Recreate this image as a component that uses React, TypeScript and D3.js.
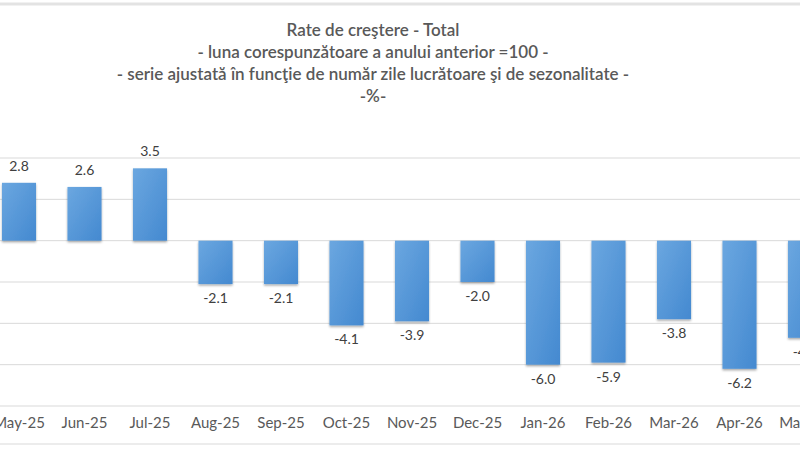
import React from 'react'
import * as d3 from 'd3'

const months = ['May-25', 'Jun-25', 'Jul-25', 'Aug-25', 'Sep-25', 'Oct-25', 'Nov-25', 'Dec-25', 'Jan-26', 'Feb-26', 'Mar-26', 'Apr-26', 'May-26']
const values = [2.8, 2.6, 3.5, -2.1, -2.1, -4.1, -3.9, -2.0, -6.0, -5.9, -3.8, -6.2, -4.7]
const yTicks = [4, 2, 0, -2, -4, -6, -8]
const titleLines = [
  'Rate de creştere - Total',
  '- luna corespunzătoare a anului anterior =100 -',
  '- serie ajustată în funcţie de număr zile lucrătoare şi de sezonalitate -',
  '-%-',
]

const width = 800
const height = 450
const font = 'Lato, "Open Sans", sans-serif'
const textColor = '#595959'

const App = () => {
  // the picture is a crop of a wider chart, so the band range runs past both edges
  const x = d3
    .scaleBand()
    .domain(months)
    .range([-13.75, 837.75])
    .paddingInner(0.48)
    .paddingOuter(0.24)

  const y = d3.scaleLinear().domain([-8, 4]).range([406, 158])

  return (
    <svg width={width} height={height} style={{ position: 'absolute', left: 0, top: 0, background: '#fff' }}>
      <defs>
        <linearGradient id="barFill" x1="0" y1="0" x2="1" y2="1">
          <stop offset="0%" stopColor="#6ba7e0" />
          <stop offset="100%" stopColor="#4489d0" />
        </linearGradient>
        <filter id="shadow" x="-20%" y="-20%" width="140%" height="140%">
          <feDropShadow dx="0" dy="1.5" stdDeviation="1" floodColor="#000" floodOpacity="0.35" />
        </filter>
      </defs>

      {/* chart border remnants */}
      <line x1={0} x2={width} y1={4} y2={4} stroke="#e3e3e3" strokeWidth={3} />
      <line x1={0} x2={width} y1={444} y2={444} stroke="#e6e6e6" strokeWidth={1.5} />

      {titleLines.map((t, i) => (
        <text
          key={i}
          x={373}
          y={30 + i * 22}
          dy="0.35em"
          textAnchor="middle"
          fontFamily={font}
          fontSize={17}
          fontWeight={600}
          fill={textColor}
        >
          {t}
        </text>
      ))}

      {yTicks.map(t => (
        <line key={t} x1={0} x2={width} y1={y(t)} y2={y(t)} stroke="#d9d9d9" strokeWidth={1} />
      ))}

      {values.map((v, i) => {
        const x0 = x(months[i])!
        const top = y(Math.max(0, v))
        const bottom = y(Math.min(0, v))
        return (
          <g key={months[i]}>
            <rect
              x={x0}
              y={top}
              width={x.bandwidth()}
              height={bottom - top}
              fill="url(#barFill)"
              filter="url(#shadow)"
            />
            <text
              x={x0 + x.bandwidth() / 2}
              y={v >= 0 ? top - 17 : bottom + 14}
              dy="0.35em"
              textAnchor="middle"
              fontFamily={font}
              fontSize={14}
              fill="#404040"
            >
              {v.toFixed(1)}
            </text>
          </g>
        )
      })}

      {months.map(m => (
        <text
          key={m}
          x={x(m)! + x.bandwidth() / 2}
          y={423}
          dy="0.35em"
          textAnchor="middle"
          fontFamily={font}
          fontSize={15}
          fill={textColor}
        >
          {m}
        </text>
      ))}
    </svg>
  )
}

export default App
